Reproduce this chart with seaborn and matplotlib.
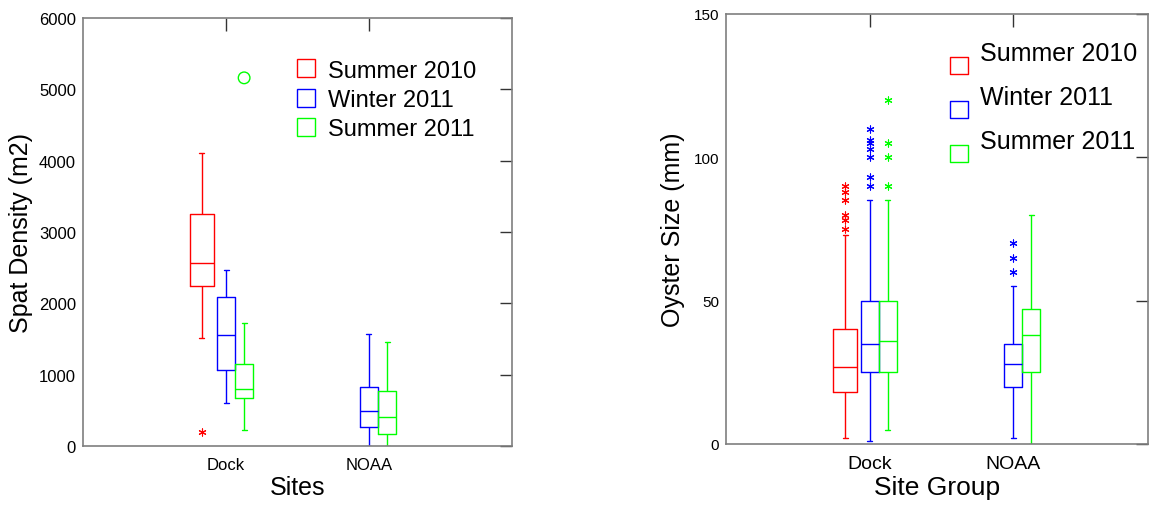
import numpy as np
import pandas as pd
import seaborn as sns
import matplotlib.pyplot as plt
from matplotlib.lines import Line2D
from matplotlib.path import Path

sites = ["Dock", "NOAA"]
seasons = ["Summer 2010", "Winter 2011", "Summer 2011"]
colors = ["#ff0000", "#0000ff", "#00ff00"]

# boxes read off the picture as: low whisker, Q1, median, Q3, high whisker
# (None = no sample for that season at the site)
spat_dock = [[1510, 2240, 2565, 3255, 4100],
             [605, 1070, 1550, 2085, 2465],
             [230, 675, 800, 1150, 1730]]
spat_noaa = [None,
             [0, 265, 495, 830, 1570],
             [0, 165, 405, 775, 1460]]
spat_out_dock = [[200], [], [5160]]
spat_out_noaa = [[], [], []]

size_dock = [[2, 18, 27, 40, 73],
             [1, 25, 35, 50, 85],
             [5, 25, 36, 50, 85]]
size_noaa = [None,
             [2, 20, 28, 35, 55],
             [0, 25, 38, 47, 80]]
size_out_dock = [[75, 78, 80, 85, 88, 90],
                 [90, 93, 100, 103, 105, 106, 110],
                 [90, 100, 105, 120]]
size_out_noaa = [[], [60, 65, 70], []]

ASTERISK = (6, 2, 0)
# first group is drawn a little wider / further out in the original
box_widths = [0.51, 0.375, 0.38]


def long_table(per_site):
    rows = []
    for site, boxes in zip(sites, per_site):
        for season, vals in zip(seasons, boxes):
            if vals:
                rows += [(site, season, v) for v in vals]
    return pd.DataFrame(rows, columns=["site", "season", "value"])


def draw_panel(ax, summary, outliers, markers):
    df = long_table(summary)
    for k, season in enumerate(seasons):
        sns.boxplot(data=df[df.season == season], x="site", y="value", hue="season",
                    order=sites, hue_order=seasons, palette=colors, fill=False,
                    width=box_widths[k], gap=0, whis=np.inf, linewidth=1,
                    dodge=True, legend=False, ax=ax, capwidths=0.035)

    out = long_table(outliers)
    for k, season in enumerate(seasons):
        sub = out[out.season == season]
        if len(sub) == 0:
            continue
        xs = sub.site.map(sites.index) + (k - 1) * box_widths[k] / 3
        if markers[k] == "o":
            sns.scatterplot(x=xs.values, y=sub.value.values, marker="o", s=70,
                            facecolor="none", edgecolor=colors[k], linewidth=1, ax=ax)
        else:
            sns.scatterplot(x=xs.values, y=sub.value.values, marker=markers[k], s=26,
                            color=colors[k], linewidth=0.8, ax=ax)


def style_axes(ax, ylim, yticks, xlim, xfs, yfs):
    ax.set_xlim(*xlim)
    ax.set_ylim(*ylim)
    ax.set_yticks(yticks)
    ax.set_xticks(range(len(sites)))
    ax.set_xticklabels(sites)
    for s in ax.spines.values():
        s.set_visible(True)
        s.set_color("#7f7f7f")
        s.set_linewidth(1.2)
    ax.tick_params(direction="in", top=True, right=True, length=9, width=1,
                   color="#333333")
    ax.tick_params(axis="x", labelsize=xfs, pad=8)
    ax.tick_params(axis="y", labelsize=yfs, pad=5)


sns.set_theme(style="white")
plt.rcParams["font.family"] = ["Liberation Sans", "DejaVu Sans"]
plt.rcParams["text.color"] = "black"
plt.rcParams["axes.labelcolor"] = "black"
plt.rcParams["xtick.color"] = "black"
plt.rcParams["ytick.color"] = "black"

fig = plt.figure(figsize=(11.5, 5.06), dpi=100)
ax1 = fig.add_axes([0.0722, 0.1166, 0.373, 0.846])
ax2 = fig.add_axes([0.6313, 0.1206, 0.367, 0.850])

draw_panel(ax1, [spat_dock, spat_noaa], [spat_out_dock, spat_out_noaa],
           [ASTERISK, ASTERISK, "o"])
draw_panel(ax2, [size_dock, size_noaa], [size_out_dock, size_out_noaa],
           [ASTERISK] * 3)

style_axes(ax1, (0, 6000), np.arange(0, 6001, 1000), (-1.0, 2.0), 12, 12)
style_axes(ax2, (0, 150), [0, 50, 100, 150], (-1.0, 1.94), 14, 11)

ax1.set_xlabel("Sites", fontsize=18, labelpad=2)
ax1.set_ylabel("Spat Density (m2)", fontsize=18, labelpad=4)
ax2.set_xlabel("Site Group", fontsize=19, labelpad=2)
ax2.set_ylabel("Oyster Size (mm)", fontsize=18, labelpad=6)

handles = [Line2D([], [], linestyle="none", marker="s", markersize=13,
                  markerfacecolor="none", markeredgecolor=c, markeredgewidth=1)
           for c in colors]
ax1.legend(handles, seasons, loc="upper left", bbox_to_anchor=(0.46, 0.93),
           frameon=False, fontsize=17, labelspacing=0.3, handletextpad=0.3,
           handlelength=1.2, borderpad=0)

# in the right panel the legend squares sit a bit below their text
low_square = Path([(-1, -2.53), (1, -2.53), (1, -0.53), (-1, -0.53), (-1, -2.53)],
                  [Path.MOVETO, Path.LINETO, Path.LINETO, Path.LINETO, Path.CLOSEPOLY])
handles2 = [Line2D([], [], linestyle="none", marker=low_square, markersize=31,
                   markerfacecolor="none", markeredgecolor=c, markeredgewidth=1)
            for c in colors]
ax2.legend(handles2, seasons, loc="upper left", bbox_to_anchor=(0.487, 0.965),
           frameon=False, fontsize=18, labelspacing=0.8, handletextpad=0.25,
           handlelength=1.2, borderpad=0)

plt.savefig("out.png", dpi=100)
